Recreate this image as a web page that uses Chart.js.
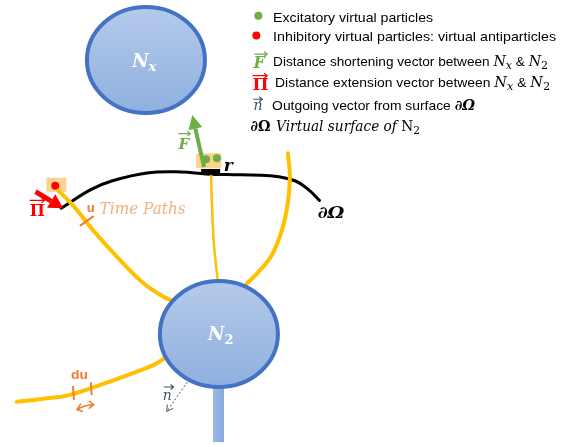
<!DOCTYPE html>
<html>
<head>
<meta charset="utf-8">
<script src="https://cdn.jsdelivr.net/npm/chart.js@4"></script>
<style>
  html, body { margin: 0; padding: 0; background: #fff; overflow: hidden; }
  canvas { display: block; }
</style>
</head>
<body>
<canvas id="diagram" width="561" height="445"></canvas>
<script>
// --- diagram data (page pixel coordinates, y grows downward) ---
const surfaceCurve = [
    {x: 58, y: 208}, {x: 88, y: 189}, {x: 110, y: 180}, {x: 145, y: 172},
    {x: 180, y: 171}, {x: 205, y: 173}, {x: 240, y: 174}, {x: 270, y: 175},
    {x: 295, y: 180}, {x: 310, y: 190}, {x: 320, y: 200}
];
const timePathLeft = [
    {x: 55, y: 190}, {x: 70, y: 205}, {x: 90, y: 230}, {x: 117, y: 260},
    {x: 140, y: 283}, {x: 160, y: 297}, {x: 175, y: 304}
];
const timePathMiddle = [
    {x: 210, y: 172}, {x: 211, y: 205}, {x: 213, y: 245}, {x: 217, y: 283}
];
const timePathRight = [
    {x: 288, y: 152}, {x: 290, y: 175}, {x: 288, y: 202}, {x: 282, y: 230},
    {x: 272, y: 255}, {x: 259, y: 272}, {x: 246, y: 285}
];
const timePathBottom = [
    {x: 13, y: 405}, {x: 40, y: 402}, {x: 67, y: 398}, {x: 100, y: 387},
    {x: 133, y: 375}, {x: 153, y: 367}, {x: 165, y: 359}
];
const excitatoryDots = [{x: 205, y: 158}, {x: 216, y: 157}, {x: 258, y: 12}];
const inhibitoryDots = [{x: 52, y: 185}, {x: 256, y: 32}];

const legendRows = [
    'Excitatory virtual particles',
    'Inhibitory virtual particles: virtual antiparticles',
    'Distance shortening vector between ',
    'Distance extension vector between ',
    'Outgoing vector from surface ',
    'Virtual surface of '
];

const SANS = 'Liberation Sans';
const SERIF = 'DejaVu Serif';
const YELLOW = '#FFC000';
const ORANGE = '#F07A2E';

function richText(ctx, x, y, segs, width) {
    let total = 0;
    segs.forEach(s => { ctx.font = s.f; s.w = ctx.measureText(s.t).width; total += s.w; });
    const k = width ? width / total : 1;
    ctx.save();
    ctx.translate(x, y);
    ctx.scale(k, 1);
    let cx = 0;
    segs.forEach(s => {
        ctx.font = s.f;
        ctx.fillStyle = s.c || '#000';
        ctx.fillText(s.t, cx, s.dy || 0);
        cx += s.w;
    });
    ctx.restore();
}

function arrow(ctx, x1, y1, x2, y2, color, lw, head, half, dash) {
    const a = Math.atan2(y2 - y1, x2 - x1);
    const bx = x2 - Math.cos(a) * head, by = y2 - Math.sin(a) * head;
    ctx.save();
    ctx.strokeStyle = color;
    ctx.fillStyle = color;
    ctx.lineWidth = lw;
    if (dash) ctx.setLineDash(dash);
    ctx.beginPath();
    ctx.moveTo(x1, y1);
    if (half) ctx.lineTo(bx, by); else ctx.lineTo(x2, y2);
    ctx.stroke();
    ctx.setLineDash([]);
    if (half) {
        ctx.beginPath();
        ctx.moveTo(x2, y2);
        ctx.lineTo(bx + Math.sin(a) * half, by - Math.cos(a) * half);
        ctx.lineTo(bx - Math.sin(a) * half, by + Math.cos(a) * half);
        ctx.closePath();
        ctx.fill();
    } else {
        ctx.beginPath();
        ctx.moveTo(x2 - Math.cos(a - 0.5) * head, y2 - Math.sin(a - 0.5) * head);
        ctx.lineTo(x2, y2);
        ctx.lineTo(x2 - Math.cos(a + 0.5) * head, y2 - Math.sin(a + 0.5) * head);
        ctx.stroke();
    }
    ctx.restore();
}

function vecBar(ctx, x1, x2, y, color) {
    ctx.save();
    ctx.strokeStyle = color;
    ctx.lineWidth = 1.2;
    ctx.beginPath();
    ctx.moveTo(x1, y); ctx.lineTo(x2, y);
    ctx.moveTo(x2 - 3, y - 2.5); ctx.lineTo(x2, y); ctx.lineTo(x2 - 3, y + 2.5);
    ctx.stroke();
    ctx.restore();
}

function neuron(ctx, cx, cy, rx, ry) {
    const g = ctx.createLinearGradient(0, cy - ry, 0, cy + ry);
    g.addColorStop(0, '#B4CAEA');
    g.addColorStop(1, '#8FB0DF');
    ctx.beginPath();
    ctx.ellipse(cx, cy, rx, ry, 0, 0, Math.PI * 2);
    ctx.fillStyle = g;
    ctx.fill();
    ctx.lineWidth = 4;
    ctx.strokeStyle = '#4472C4';
    ctx.stroke();
}

const backgroundPlugin = {
    id: 'backgroundShapes',
    beforeDatasetsDraw(chart) {
        const ctx = chart.ctx;
        const X = v => chart.scales.x.getPixelForValue(v);
        const Y = v => chart.scales.y.getPixelForValue(v);
        ctx.save();
        ctx.fillStyle = 'rgba(250, 196, 100, 0.75)';
        ctx.fillRect(X(195), Y(152), 25, 15);
        ctx.fillRect(X(43), Y(177), 20, 14);
        ctx.restore();
    }
};

const shapesPlugin = {
    id: 'diagramShapes',
    afterDatasetsDraw(chart) {
        const ctx = chart.ctx;
        const X = v => chart.scales.x.getPixelForValue(v);
        const Y = v => chart.scales.y.getPixelForValue(v);
        ctx.save();

        // neurons
        neuron(ctx, X(144), Y(57), 59, 53);
        const sg = ctx.createLinearGradient(X(212), 0, X(223), 0);
        sg.addColorStop(0, '#9DB8E4');
        sg.addColorStop(1, '#86A8DC');
        ctx.fillStyle = sg;
        ctx.fillRect(X(212), Y(386), 11, 59);
        neuron(ctx, X(218), Y(336), 59, 53);

        // membrane bar r
        ctx.fillStyle = '#000';
        ctx.fillRect(X(200), Y(168), 19, 6);

        // vectors
        arrow(ctx, X(203), Y(166), X(191), Y(113), '#70AD47', 4, 14, 7);
        arrow(ctx, X(32), Y(191), X(60), Y(208), '#FF0000', 5, 14, 8);
        arrow(ctx, X(186), Y(385), X(165), Y(415), '#44546A', 1, 7, 0, [2, 2]);

        // orange tick marks
        ctx.strokeStyle = ORANGE;
        ctx.lineWidth = 2;
        ctx.beginPath();
        ctx.moveTo(X(77), Y(226)); ctx.lineTo(X(91), Y(216));
        ctx.moveTo(X(70), Y(389)); ctx.lineTo(X(71), Y(403));
        ctx.moveTo(X(88), Y(385)); ctx.lineTo(X(89), Y(398));
        ctx.stroke();
        // du double arrow
        ctx.lineWidth = 1.5;
        ctx.beginPath();
        ctx.moveTo(X(74), Y(413)); ctx.quadraticCurveTo(X(82), Y(408), X(91), Y(408));
        ctx.moveTo(X(78), Y(407)); ctx.lineTo(X(74), Y(413)); ctx.lineTo(X(80), Y(415));
        ctx.moveTo(X(86), Y(404)); ctx.lineTo(X(91), Y(408)); ctx.lineTo(X(86), Y(412));
        ctx.stroke();

        ctx.textBaseline = 'alphabetic';
        // neuron labels
        richText(ctx, X(130), Y(64), [
            {t: 'N', f: `italic bold 18px "${SERIF}"`, c: '#fff'},
            {t: 'x', f: `italic bold 13px "${SERIF}"`, c: '#fff', dy: 4}
        ]);
        richText(ctx, X(207), Y(342), [
            {t: 'N', f: `italic bold 18px "${SERIF}"`, c: '#fff'},
            {t: '2', f: `bold 13px "${SERIF}"`, c: '#fff', dy: 4}
        ]);

        // diagram labels
        richText(ctx, X(177), Y(148), [{t: 'F', f: `italic bold 15px "${SERIF}"`, c: '#70AD47'}]);
        vecBar(ctx, X(177), X(189), Y(132), '#70AD47');
        richText(ctx, X(26), Y(216), [{t: 'Π', f: `bold 16px "${SERIF}"`, c: '#FF0000'}]);
        vecBar(ctx, X(26), X(41), Y(200), '#FF0000');
        richText(ctx, X(223), Y(170), [{t: 'r', f: `italic bold 17px "${SERIF}"`}]);
        richText(ctx, X(84), Y(212), [{t: 'u', f: `bold 13px "${SANS}"`, c: ORANGE}]);
        richText(ctx, X(97), Y(214), [{t: 'Time Paths', f: `italic 16px "${SERIF}"`, c: '#F4B183'}], 86);
        richText(ctx, X(318), Y(218), [{t: '∂Ω', f: `italic bold 16px "${SERIF}"`}], 27);
        richText(ctx, X(68), Y(382), [{t: 'du', f: `bold 13px "${SANS}"`, c: ORANGE}], 17);
        richText(ctx, X(161), Y(403), [{t: 'n', f: `italic 14px "${SERIF}"`, c: '#44546A'}]);
        vecBar(ctx, X(162), X(172), Y(390), '#44546A');

        // legend
        const lf = `13.5px "${SANS}"`;
        const mi = `italic 14px "${SERIF}"`;
        const sub = `11px "${SERIF}"`;
        const subi = `italic 11px "${SERIF}"`;
        richText(ctx, X(273), Y(18), [{t: legendRows[0], f: lf}], 160);
        richText(ctx, X(273), Y(38), [{t: legendRows[1], f: lf}], 283);
        const nxn2 = [
            {t: 'N', f: mi}, {t: 'x', f: subi, dy: 3}, {t: ' & ', f: lf},
            {t: 'N', f: mi}, {t: '2', f: sub, dy: 3}
        ];
        richText(ctx, X(273), Y(63), [{t: legendRows[2], f: lf}].concat(nxn2.map(s => ({...s}))), 275);
        richText(ctx, X(275), Y(85), [{t: legendRows[3], f: lf}].concat(nxn2.map(s => ({...s}))), 275);
        richText(ctx, X(272), Y(108), [
            {t: legendRows[4], f: lf}, {t: '∂Ω', f: `italic bold 14px "${SERIF}"`}
        ], 203);
        richText(ctx, X(250), Y(129), [{t: '∂Ω', f: `bold 15px "${SERIF}"`}], 20);
        richText(ctx, X(276), Y(129), [
            {t: legendRows[5], f: `italic 14px "${SERIF}"`},
            {t: 'N', f: `14px "${SERIF}"`}, {t: '2', f: sub, dy: 3}
        ], 144);

        richText(ctx, X(253), Y(65), [{t: 'F', f: `italic bold 16px "${SERIF}"`, c: '#70AD47'}]);
        vecBar(ctx, X(254), X(267), Y(51), '#70AD47');
        richText(ctx, X(252), Y(88), [{t: 'Π', f: `bold 17px "${SERIF}"`, c: '#FF0000'}]);
        vecBar(ctx, X(252), X(267), Y(73), '#FF0000');
        richText(ctx, X(253), Y(108), [{t: 'n', f: `italic 14px "${SERIF}"`, c: '#44546A'}]);
        vecBar(ctx, X(253), X(262), Y(97), '#44546A');

        ctx.restore();
    }
};

function pathSet(data, color, width) {
    return {
        type: 'line', data: data, borderColor: color, borderWidth: width,
        pointRadius: 0, tension: 0.4, fill: false, borderCapStyle: 'round'
    };
}

new Chart(document.getElementById('diagram').getContext('2d'), {
    type: 'scatter',
    data: {
        datasets: [
            pathSet(timePathLeft, YELLOW, 4),
            pathSet(timePathMiddle, YELLOW, 2.5),
            pathSet(timePathRight, YELLOW, 4),
            pathSet(timePathBottom, YELLOW, 4),
            pathSet(surfaceCurve, '#000', 3),
            {data: excitatoryDots, backgroundColor: '#70AD47', borderWidth: 0, pointRadius: 4},
            {data: inhibitoryDots, backgroundColor: '#FF0000', borderWidth: 0, pointRadius: 4}
        ]
    },
    options: {
        responsive: false,
        animation: false,
        layout: { padding: 0 },
        plugins: { legend: { display: false }, tooltip: { enabled: false } },
        scales: {
            x: { type: 'linear', min: 0, max: 561, display: false },
            y: { type: 'linear', min: 0, max: 445, reverse: true, display: false }
        }
    },
    plugins: [backgroundPlugin, shapesPlugin]
});
</script>
</body>
</html>
